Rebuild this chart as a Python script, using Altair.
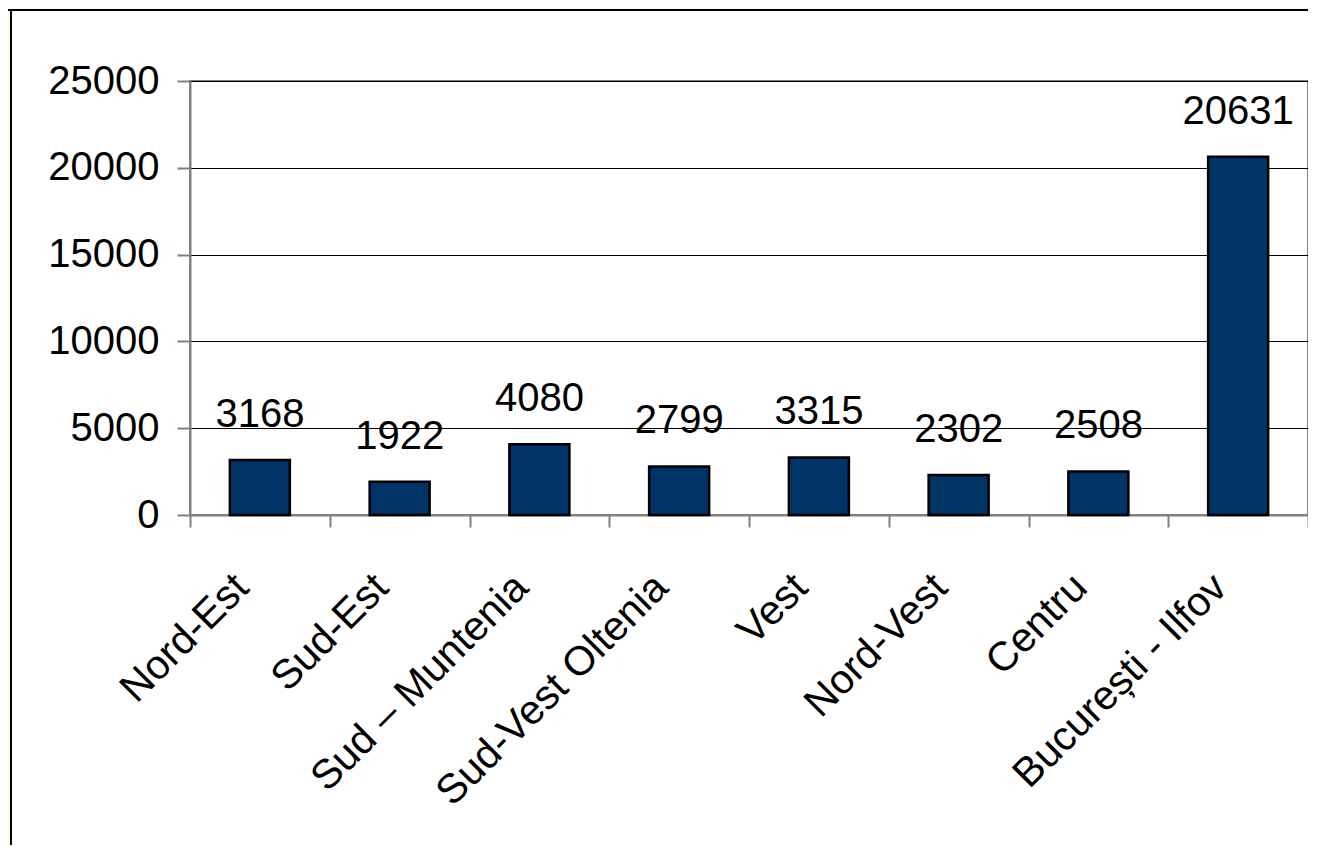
import altair as alt
import pandas as pd

regions = ["Nord-Est", "Sud-Est", "Sud – Muntenia", "Sud-Vest Oltenia",
           "Vest", "Nord-Vest", "Centru", "București - Ilfov"]
values = [3168, 1922, 4080, 2799, 3315, 2302, 2508, 20631]
y_ticks = [0, 5000, 10000, 15000, 20000, 25000]

df = pd.DataFrame({"region": regions, "value": values})

FONT = "Liberation Sans"
W, H = 1118, 434

x_enc = alt.X("region:N", sort=regions,
              scale=alt.Scale(paddingInner=0, paddingOuter=0),
              axis=alt.Axis(title=None, labelAngle=-45, labelAlign="right",
                            labelBaseline="middle", labelFontSize=41,
                            labelFont=FONT, labelColor="black",
                            labelPadding=54, labelOffset=-18,
                            tickBand="extent", tickSize=12,
                            tickColor="#808080", tickWidth=2,
                            domainColor="#808080", domainWidth=2,
                            labelLimit=0, labelOverlap=False))
y_enc = alt.Y("value:Q",
              scale=alt.Scale(domain=[0, 25000], nice=False),
              axis=alt.Axis(title=None, values=y_ticks, format="d",
                            labelFontSize=40, labelFont=FONT, labelColor="black",
                            labelPadding=18, tickSize=13, tickColor="#808080",
                            tickWidth=2, domainColor="#808080", domainWidth=2,
                            grid=True, gridColor="black", gridWidth=1))

bars = alt.Chart(df).mark_bar(size=60, color="#003366", stroke="black",
                              strokeWidth=2.5).encode(x=x_enc, y=y_enc)

labels = alt.Chart(df).mark_text(fontSize=40, font=FONT, color="black",
                                 baseline="alphabetic", dy=-33).encode(
    x=alt.X("region:N", sort=regions), y="value:Q", text="value:Q")

one = pd.DataFrame({"k": [0]})
left_strip = alt.Chart(one).mark_rect(fill="#FFFFE0", stroke="black",
                                      strokeWidth=2).encode(
    x=alt.value(-400), x2=alt.value(-179), y=alt.value(-400), y2=alt.value(1200))
top_strip = alt.Chart(one).mark_rect(fill="#FFFFE0", stroke="black",
                                     strokeWidth=2).encode(
    x=alt.value(-400), x2=alt.value(2400), y=alt.value(-400), y2=alt.value(-71))

chart = alt.layer(left_strip, top_strip, bars, labels).properties(
    width=W, height=H,
    autosize=alt.AutoSizeParams(type="none"),
    padding={"left": 182, "top": 73, "right": 0, "bottom": 330},
    background="white",
).configure_view(stroke="#808080", strokeWidth=2)

chart.save("out.html", embed_options={"renderer": "svg", "actions": False})
